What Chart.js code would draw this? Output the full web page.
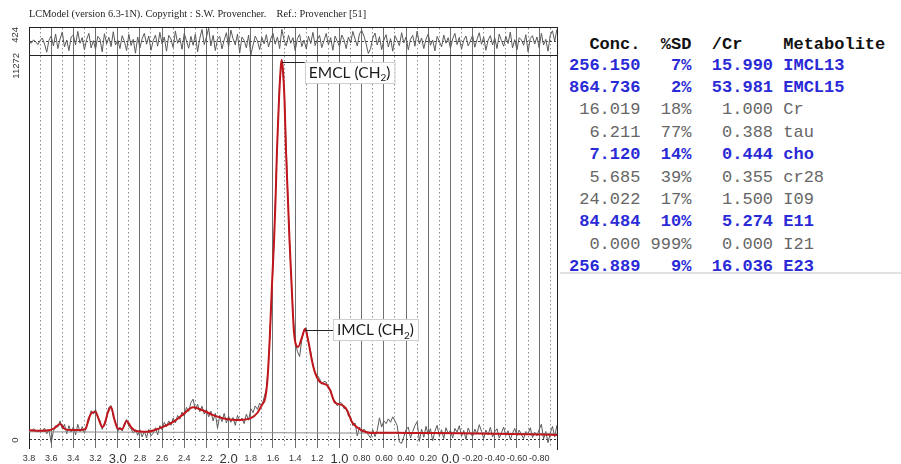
<!DOCTYPE html>
<html><head><meta charset="utf-8">
<script src="https://cdn.jsdelivr.net/npm/chart.js@4.4.1/dist/chart.umd.min.js"></script>
<style>
html,body{margin:0;padding:0;background:#fff;width:901px;height:464px;overflow:hidden;}
#wrap{position:relative;width:901px;height:464px;}
#c{position:absolute;left:0;top:0;}
#table{position:absolute;left:569px;top:0;width:332px;height:280px;font-family:'Liberation Mono',monospace;font-size:17px;white-space:pre;}
.row{position:absolute;left:0;height:22px;line-height:22px;}
.hdr{font-weight:bold;color:#111;}
.hi{font-weight:bold;color:#2a2ad6;}
.lo{color:#666;}
#tline{position:absolute;left:560px;top:272px;width:341px;height:2px;background:#e2e2e2;}
</style>
</head><body>
<div id="wrap">
<canvas id="c" width="560" height="464"></canvas>
<div id="table"></div>
<div id="tline"></div>
</div>
<script>
// ---- spectrum sampling grid (ppm) ----
const ppm = [
3.80,3.78,3.76,3.74,3.72,3.70,3.68,3.66,3.64,3.62,
3.60,3.58,3.56,3.54,3.52,3.50,3.48,3.46,3.44,3.42,
3.40,3.38,3.36,3.34,3.32,3.30,3.28,3.26,3.24,3.22,
3.20,3.18,3.16,3.14,3.12,3.10,3.08,3.06,3.04,3.02,
3.00,2.98,2.96,2.94,2.92,2.90,2.88,2.86,2.84,2.82,
2.80,2.78,2.76,2.74,2.72,2.70,2.68,2.66,2.64,2.62,
2.60,2.58,2.56,2.54,2.52,2.50,2.48,2.46,2.44,2.42,
2.40,2.38,2.36,2.34,2.32,2.30,2.28,2.26,2.24,2.22,
2.20,2.18,2.16,2.14,2.12,2.10,2.08,2.06,2.04,2.02,
2.00,1.98,1.96,1.94,1.92,1.90,1.88,1.86,1.84,1.82,
1.80,1.78,1.76,1.74,1.72,1.70,1.68,1.66,1.64,1.62,
1.60,1.58,1.56,1.54,1.52,1.50,1.48,1.46,1.44,1.42,
1.40,1.38,1.36,1.34,1.32,1.30,1.28,1.26,1.24,1.22,
1.20,1.18,1.16,1.14,1.12,1.10,1.08,1.06,1.04,1.02,
1.00,0.98,0.96,0.94,0.92,0.90,0.88,0.86,0.84,0.82,
0.80,0.78,0.76,0.74,0.72,0.70,0.68,0.66,0.64,0.62,
0.60,0.58,0.56,0.54,0.52,0.50,0.48,0.46,0.44,0.42,
0.40,0.38,0.36,0.34,0.32,0.30,0.28,0.26,0.24,0.22,
0.20,0.18,0.16,0.14,0.12,0.10,0.08,0.06,0.04,0.02,
0.00,-0.02,-0.04,-0.06,-0.08,-0.10,-0.12,-0.14,-0.16,-0.18,
-0.20,-0.22,-0.24,-0.26,-0.28,-0.30,-0.32,-0.34,-0.36,-0.38,
-0.40,-0.42,-0.44,-0.46,-0.48,-0.50,-0.52,-0.54,-0.56,-0.58,
-0.60,-0.62,-0.64,-0.66,-0.68,-0.70,-0.72,-0.74,-0.76,-0.78,
-0.80,-0.82,-0.84,-0.86,-0.88,-0.90,-0.92,-0.94,-0.96];

// ---- measured spectrum (grey) ----
const spectrum = [
310,260,330,280,240,300,250,350,180,300,
-80,250,420,380,560,330,460,180,420,230,
380,150,460,240,390,200,420,560,860,760,
900,640,580,310,500,640,960,1010,700,520,
250,380,260,480,600,400,330,200,300,140,
300,90,260,60,310,120,200,360,150,420,
300,520,390,560,430,640,500,720,610,820,
700,960,840,1100,1200,880,1050,830,990,760,
900,680,850,560,780,350,720,540,780,500,
700,520,660,430,720,560,640,480,760,580,
920,800,1000,900,1080,1000,1250,1500,2250,3650,
5050,6950,8850,10550,11100,10350,8550,6650,5050,3750,
2900,2600,2450,2950,3250,3300,2850,2600,2200,1950,
1900,1800,1640,1720,1700,1500,1480,1200,1150,1000,
1100,1080,920,950,700,680,420,500,120,380,
200,320,250,150,60,300,100,280,650,380,
560,480,620,520,680,560,420,-60,-100,100,
300,380,60,250,420,540,-40,320,80,400,
150,330,-20,260,430,120,300,40,360,180,
290,60,340,230,420,110,280,20,350,200,
100,320,180,450,260,40,290,150,370,90,
240,330,60,210,380,130,270,10,200,340,
120,290,160,40,250,180,360,70,230,120,
310,460,30,250,-80,200,400,90,430];

// ---- residual (top panel) ----
const residual = [
20,-40,60,10,-80,40,120,-60,-310,50,
180,-120,240,-200,90,300,-150,60,-260,150,
210,-90,320,-40,130,-240,80,260,-180,40,
-220,170,90,-300,250,-60,140,-140,310,-90,
60,-200,190,20,-260,230,-110,80,-340,150,
-180,100,260,-70,180,-250,40,210,-130,290,
-60,150,-280,200,90,-170,330,-40,120,-220,
260,30,-190,170,-100,240,-300,110,380,-80,
150,420,-120,200,-260,90,170,-210,60,280,
-150,360,100,-90,240,-330,150,50,-180,210,
-400,-100,180,30,-230,140,-60,220,-150,90,
260,-70,150,-200,380,60,-120,200,-40,130,
-260,100,230,-140,60,-210,170,-50,290,-110,
80,200,-170,40,260,-90,130,-250,180,20,
-140,210,70,-200,150,-30,320,90,-120,250,
350,180,-60,-350,-200,120,270,-90,160,-230,
60,220,-150,100,-280,190,40,-110,280,-30,
150,-240,80,200,-130,330,-60,120,-200,90,
240,-100,60,-270,170,20,-150,210,-40,130,
-190,90,260,-80,140,-220,50,180,-120,30,
200,-160,80,280,-70,150,-250,60,190,-90,
120,-200,240,40,-130,170,-50,300,-180,70,
-240,130,60,-100,220,-300,110,190,-60,150,
-170,260,-90,80,-280,200,340,20,380];

// ---- LCModel fit (red) ----
const fitPpm = [3.80,3.70,3.62,3.57,3.52,3.48,3.42,3.34,3.29,3.26,3.23,3.20,3.17,3.14,3.12,3.09,3.06,3.03,3.00,2.96,2.92,2.88,2.84,2.74,2.62,2.50,2.40,2.32,2.24,2.14,2.01,1.90,1.80,1.74,1.70,1.67,1.65,1.63,1.61,1.59,1.577,1.564,1.546,1.528,1.52,1.51,1.496,1.483,1.465,1.451,1.43,1.41,1.374,1.338,1.311,1.284,1.25,1.22,1.176,1.113,1.086,1.04,0.98,0.933,0.888,0.834,0.77,0.70,0.64,0.36,-0.09,-0.54,-0.97];
const fitAmp = [290,270,285,350,470,330,290,290,330,640,810,820,600,380,450,800,970,600,340,320,560,380,270,240,350,530,780,960,880,730,610,590,640,800,1030,1230,1760,2930,4500,5870,7040,8510,9980,11010,11150,10860,9980,8510,7040,5870,4400,3140,2730,3020,3260,2940,2350,1970,1700,1610,1470,1090,1030,880,530,350,240,205,215,205,200,175,150];

// ---- baseline ----
const baselinePpm = [3.80, 2.00, 1.00, -0.97];
const baselineAmp = [240, 220, 205, 195];

// ---- axes ----
const xTickValues = [3.8,3.6,3.4,3.2,3.0,2.8,2.6,2.4,2.2,2.0,1.8,1.6,1.4,1.2,1.0,0.8,0.6,0.4,0.2,0.0,-0.2,-0.4,-0.6,-0.8];
const xTickLabels = ['3.8','3.6','3.4','3.2','3.0','2.8','2.6','2.4','2.2','2.0','1.8','1.6','1.4','1.2','1.0','0.80','0.60','0.40','0.20','0.0','-0.20','-0.40','-0.60','-0.80'];
const yTickValues = [0, 11272];
const residualTickValues = [-424, 0, 424];

// ---- peak labels ----
const peakLabels = ['EMCL (CH', 'IMCL (CH'];
const peakPpm = [1.52, 1.311];
const peakAmp = [11150, 3260];

// ---- metabolite table ----
const metabolites = ['IMCL13','EMCL15','Cr','tau','cho','cr28','I09','E11','I21','E23'];
const conc = [256.150, 864.736, 16.019, 6.211, 7.120, 5.685, 24.022, 84.484, 0.000, 256.889];
const sdPct = [7, 2, 18, 77, 14, 39, 17, 10, 999, 9];
const ratioCr = [15.990, 53.981, 1.000, 0.388, 0.444, 0.355, 1.500, 5.274, 0.000, 16.036];
const highlighted = [true, true, false, false, true, false, false, true, false, true];

// ---------- table ----------
const tbl = document.getElementById('table');
function addRow(txt, centerY, cls){
  const d = document.createElement('div');
  d.className = 'row ' + cls;
  d.style.top = (centerY - 11) + 'px';
  d.textContent = txt;
  tbl.appendChild(d);
}
addRow('  Conc.  %SD  /Cr    Metabolite', 45, 'hdr');
metabolites.forEach((m, i) => {
  const line = conc[i].toFixed(3).padStart(7) + ' ' + (sdPct[i] + '%').padStart(4) + '  ' +
               ratioCr[i].toFixed(3).padStart(6) + ' ' + m;
  addRow(line, 65.5 + 22.4 * i, highlighted[i] ? 'hi' : 'lo');
});

// ---------- chart ----------
const near = (a, b) => Math.abs(a - b) < 1e-6;
const isMajor = v => near(v * 5, Math.round(v * 5));
const isInt = v => near(v, Math.round(v));
const xTicks = [];
xTickValues.forEach(v => { xTicks.push(v); xTicks.push(+(v - 0.1).toFixed(2)); });
xTicks.sort((a, b) => a - b);

const overlay = {
  id: 'overlay',
  afterDraw(chart) {
    const {ctx, chartArea: ca, scales} = chart;
    const xs = scales.x, ys = scales.y, yr = scales.yr;
    ctx.save();
    ctx.strokeStyle = '#222'; ctx.lineWidth = 1;
    const rx = Math.round(ca.right) - 0.5;
    ctx.beginPath(); ctx.moveTo(rx, ca.top); ctx.lineTo(rx, ca.bottom + 2); ctx.stroke();
    ctx.fillStyle = '#333'; ctx.font = '9.5px "Liberation Sans"'; ctx.textBaseline = 'middle';
    const rot = (txt, px, py, align) => { ctx.save(); ctx.translate(px, py); ctx.rotate(-Math.PI / 2); ctx.textAlign = align; ctx.fillText(txt, 0, 0); ctx.restore(); };
    yTickValues.forEach(v => {
      const py = ys.getPixelForValue(v);
      if (v === 0) rot(String(v), 15, py, 'center'); else rot(String(v), 16, py - 3, 'right');
    });
    rot(String(residualTickValues[2]), 15, yr.getPixelForValue(residualTickValues[2]) - 1, 'right');
    const styles = [{dx: 23, dy: 2, top: true}, {dx: 28, dy: 1, top: false}];
    peakLabels.forEach((lab, i) => {
      const ax = xs.getPixelForValue(peakPpm[i]), ay = ys.getPixelForValue(peakAmp[i]);
      const s = styles[i];
      ctx.font = '15.5px Lato';
      const w1 = ctx.measureText(lab).width;
      ctx.font = '10px Lato';
      const w2 = ctx.measureText('2').width;
      ctx.font = '15.5px Lato';
      const w3 = ctx.measureText(')').width;
      const bw = w1 + w2 + w3 + 8, bh = 21;
      const lx = ax + s.dx, ly = ay + s.dy;
      const by = s.top ? ly : ly - bh / 2;
      ctx.strokeStyle = '#222'; ctx.lineWidth = 1;
      ctx.beginPath(); ctx.moveTo(ax, Math.round(ly) + 0.5); ctx.lineTo(lx, Math.round(ly) + 0.5); ctx.stroke();
      ctx.fillStyle = '#fff'; ctx.fillRect(lx, by, bw, bh);
      ctx.strokeStyle = '#cfcfcf'; ctx.strokeRect(Math.round(lx) + 0.5, Math.round(by) + 0.5, bw, bh);
      ctx.fillStyle = '#1a1a1a'; ctx.textAlign = 'left'; ctx.textBaseline = 'middle';
      const ty = by + bh / 2 + 0.5;
      ctx.fillText(lab, lx + 4, ty);
      ctx.font = '10px Lato'; ctx.fillText('2', lx + 4 + w1, ty + 5);
      ctx.font = '15.5px Lato'; ctx.fillText(')', lx + 4 + w1 + w2, ty);
    });
    ctx.restore();
  }
};

new Chart(document.getElementById('c'), {
  type: 'line',
  data: {
    datasets: [
      { label: 'data', data: ppm.map((p, i) => ({x: p, y: spectrum[i]})), borderColor: '#5a5a5a', borderWidth: 1, pointRadius: 0, tension: 0, yAxisID: 'y', order: 3 },
      { label: 'baseline', data: baselinePpm.map((p, i) => ({x: p, y: baselineAmp[i]})), borderColor: '#8a8a8a', borderWidth: 1, pointRadius: 0, tension: 0, yAxisID: 'y', order: 2 },
      { label: 'fit', data: fitPpm.map((p, i) => ({x: p, y: fitAmp[i]})), borderColor: '#c0161c', borderWidth: 2, pointRadius: 0, cubicInterpolationMode: 'monotone', yAxisID: 'y', order: 1 },
      { label: 'residual', data: ppm.map((p, i) => ({x: p, y: residual[i]})), borderColor: '#5a5a5a', borderWidth: 1, pointRadius: 0, tension: 0, yAxisID: 'yr', order: 4 }
    ]
  },
  options: {
    responsive: false, animation: false, devicePixelRatio: 1,
    layout: { padding: { left: 29, right: 2, top: 0, bottom: 0 } },
    plugins: {
      legend: { display: false }, tooltip: { enabled: false },
      title: { display: true, align: 'start', text: 'LCModel (version 6.3-1N). Copyright : S.W. Provencher.    Ref.: Provencher [51]',
               color: '#222', font: { family: 'Liberation Serif', size: 10.3, weight: 'normal', lineHeight: 1.2 }, padding: { top: 8, bottom: 7.6 } }
    },
    scales: {
      x: {
        type: 'linear', reverse: true, min: -0.97, max: 3.8,
        afterBuildTicks: s => { s.ticks = xTicks.map(v => ({value: v})); },
        afterFit: s => { s.height = 16; },
        border: { display: false, dash: c => (c.tick && !isMajor(c.tick.value)) ? [1.5, 2.5] : [] },
        grid: { drawTicks: false, color: c => (c.tick && isMajor(c.tick.value)) ? (near(c.tick.value, 3.8) ? '#222' : '#6f6f6f') : '#8c8c8c', lineWidth: 1 },
        ticks: {
          autoSkip: false, maxRotation: 0, minRotation: 0, padding: 5, color: '#333',
          font: c => (c.tick && isInt(c.tick.value)) ? { family: 'Liberation Sans', size: 13, lineHeight: 1.0 } : { family: 'Liberation Sans', size: 9, lineHeight: 1.2 },
          callback: v => { const k = xTickValues.findIndex(t => near(t, v)); return k >= 0 ? xTickLabels[k] : ''; }
        }
      },
      y: {
        type: 'linear', position: 'left', stack: 'panels', stackWeight: 14, min: -235, max: 11272,
        afterBuildTicks: s => { s.ticks = yTickValues.map(v => ({value: v})); },
        border: { display: true, color: '#222', width: 1, dash: c => (c.tick && c.tick.value === 0) ? [2, 2] : [] },
        grid: { drawTicks: false, color: c => (c.tick && c.tick.value === 0) ? '#333' : '#222', lineWidth: 1 },
        ticks: { display: false }
      },
      yr: {
        type: 'linear', position: 'left', stack: 'panels', stackWeight: 1, min: -424, max: 424,
        afterBuildTicks: s => { s.ticks = residualTickValues.map(v => ({value: v})); },
        border: { display: true, color: '#222', width: 1, dash: c => (c.tick && c.tick.value === 0) ? [2, 2] : [] },
        grid: { drawTicks: false, color: c => (c.tick && c.tick.value === 0) ? '#444' : '#222', lineWidth: 1 },
        ticks: { display: false }
      }
    }
  },
  plugins: [overlay]
});
</script>
</body></html>
